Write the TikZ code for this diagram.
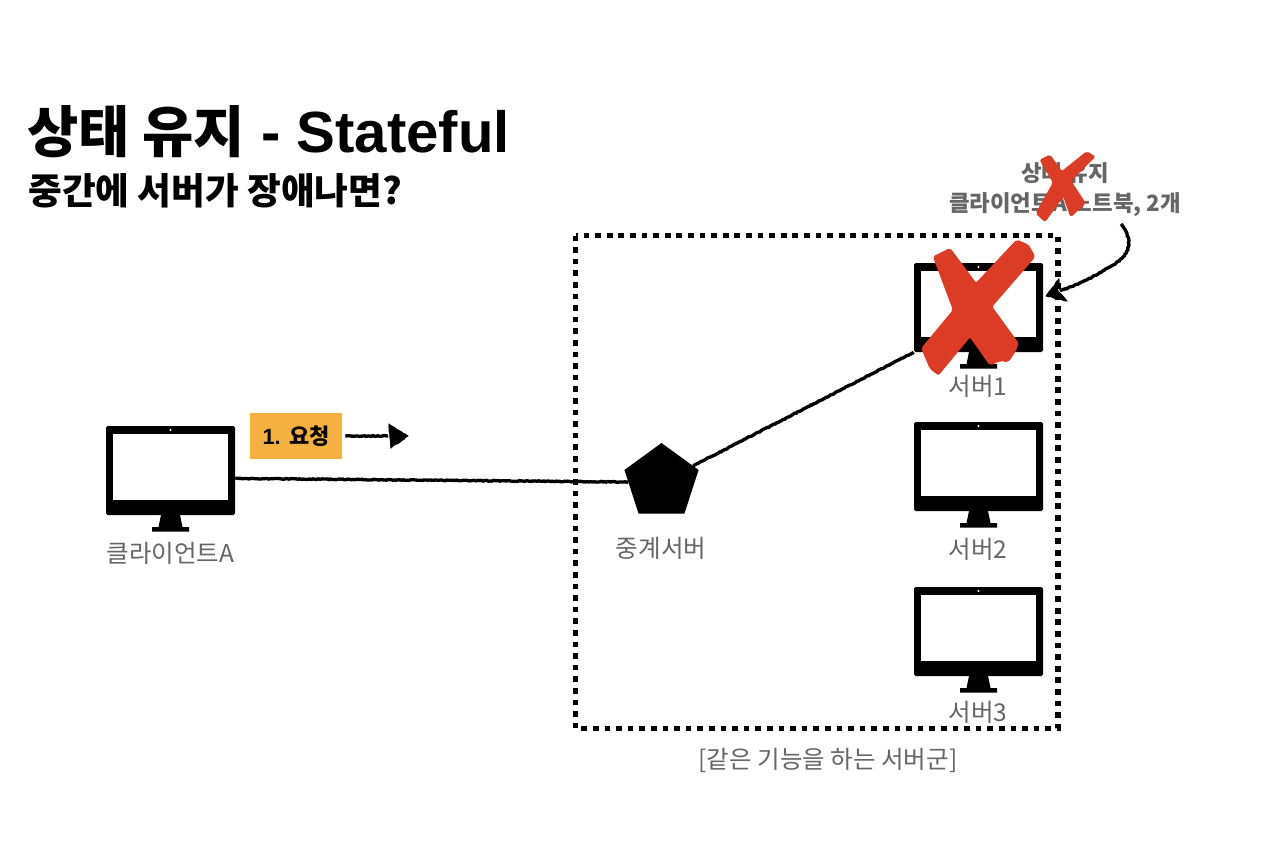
\documentclass[tikz,border=0pt]{standalone}
\usepackage{fontspec}
\setmainfont{Liberation Sans}
\newfontfamily\kr{Noto Sans CJK KR}
\usetikzlibrary{shapes.geometric,decorations.pathmorphing,arrows.meta}
\definecolor{labelgray}{HTML}{666666}
\definecolor{crossred}{HTML}{DC3B26}
\definecolor{tagorange}{HTML}{F4B13F}
\tikzset{
  x=0.75pt,y=-0.75pt,
  mon/.style={fill=black,rounded corners=1.2pt,inner sep=0,minimum width=96.75pt,minimum height=66.75pt},
  scr/.style={fill=white,inner sep=0,minimum width=86.5pt,minimum height=49.5pt},
  lbl/.style={text=labelgray,font=\kr\fontsize{18.4}{22}\selectfont,inner sep=0},
  noteLbl/.style={text=labelgray,font=\kr\bfseries\fontsize{16.8}{22.5}\selectfont,inner sep=0,align=center},
  rough/.style={draw=black,line width=2.5pt,decorate,decoration={random steps,segment length=1.3pt,amplitude=0.32pt}},
  crossfill/.style={fill=crossred,draw=crossred,line width=0.6pt,rounded corners=1.5pt},
  dotbox/.style={draw=black,line width=4.3pt,dash pattern=on 4.3pt off 4.4pt},
  inkhead/.style={fill=black,draw=black,line width=0.6pt,decorate,decoration={random steps,segment length=2pt,amplitude=0.4pt}},
}
\newcommand\monitor[3]{%
  \fill[black] (#2-9.5,#3+89) -- (#2+9.5,#3+89) -- (#2+12,#3+101) -- (#2+18.5,#3+101) -- (#2+18.5,#3+105.5) -- (#2-18.5,#3+105.5) -- (#2-18.5,#3+101) -- (#2-12,#3+101) -- cycle;
  \node[mon] (#1) at (#2,#3+44.5) {};
  \node[scr] (#1-screen) at (#2,#3+41) {};
  \fill[white] (#2,#3+4) circle (1.2);
}
\begin{document}
\begin{tikzpicture}
\useasboundingbox[fill=white] (0,0) rectangle (1284,840);

% title
\node[anchor=base west,inner sep=0,font=\bfseries\fontsize{43.6}{50}\selectfont] (title) at (27,152) {{\kr\fontsize{41.8}{50}\selectfont 상태 유지} - Stateful};
\node[anchor=base west,inner sep=0,font=\kr\bfseries\fontsize{27.5}{32}\selectfont] (subtitle) at (28,204) {중간에 서버가 장애나면?};

% dotted group
\draw[dotbox] (575.5,235.5) rectangle (1058,728.5);
\node[lbl] (groupLabel) at (828,760) {[같은 기능을 하는 서버군]};

% monitors
\monitor{clientA}{170.5}{426}
\monitor{server1}{978.5}{263}
\monitor{server2}{978.5}{422}
\monitor{server3}{978.5}{587}

\node[lbl] (clientLabel) at (170.5,553) {클라이언트A};
\node[lbl] (s1Label) at (978,386) {서버1};
\node[lbl] (s2Label) at (978,549) {서버2};
\node[lbl] (s3Label) at (978,712) {서버3};

% relay
\node[regular polygon,regular polygon sides=5,fill=black,inner sep=0,minimum size=58.5pt] (relay) at (661.5,482) {};
\node[lbl] (relayLabel) at (661,548) {중계서버};

% connectors
\draw[rough] (clientA.-7) -- (relay.180);
\draw[rough] (relay.27) -- (server1.south west);

% request tag
\node[fill=tagorange,inner sep=0,minimum width=69pt,minimum height=34.5pt,font=\bfseries\fontsize{16.5}{18}\selectfont] (req) at (296,436) {1. {\kr 요청}};
\coordinate (reqEnd) at (408,436);
\draw[rough] (req.east) ++(3,0) -- ([xshift=-15pt]reqEnd);
\path[inkhead] (reqEnd) -- (389,424) -- (391,448) -- cycle;

% note
\node[noteLbl] (note) at (1065,190) {상태 유지\\클라이언트A 노트북, 2개};
\coordinate (noteArrowStart) at (1121,224);
\begin{scope}[shift={(900,150)},x=0.25pt,y=-0.25pt]
  \path[crossfill] (420,30) -- (450,15) -- (485,65) -- (560,5) -- (585,20) -- (512,92) -- (556,160) -- (512,200) -- (490,138) -- (435,215) -- (408,190) -- (460,98) -- cycle;
\end{scope}
\draw[rough] (noteArrowStart) .. controls (1130,235) and (1135,252) .. (1113,265) .. controls (1100,273) and (1085,282) .. (1060,291);
\path[inkhead] (1046,296) -- (1059,279) -- (1058,291) -- (1067,301) -- cycle;

% big cross
\begin{scope}[shift={(900,150)},x=0.25pt,y=-0.25pt]
  \path[crossfill] (100,320) -- (125,308) -- (150,295) -- (228,400) -- (350,270) -- (385,285) -- (405,320) -- (275,470) -- (355,580) -- (345,605) -- (325,635) -- (300,632) -- (270,645) -- (210,560) -- (115,675) -- (90,655) -- (65,595) -- (160,480) -- cycle;
\end{scope}
\end{tikzpicture}
\end{document}
